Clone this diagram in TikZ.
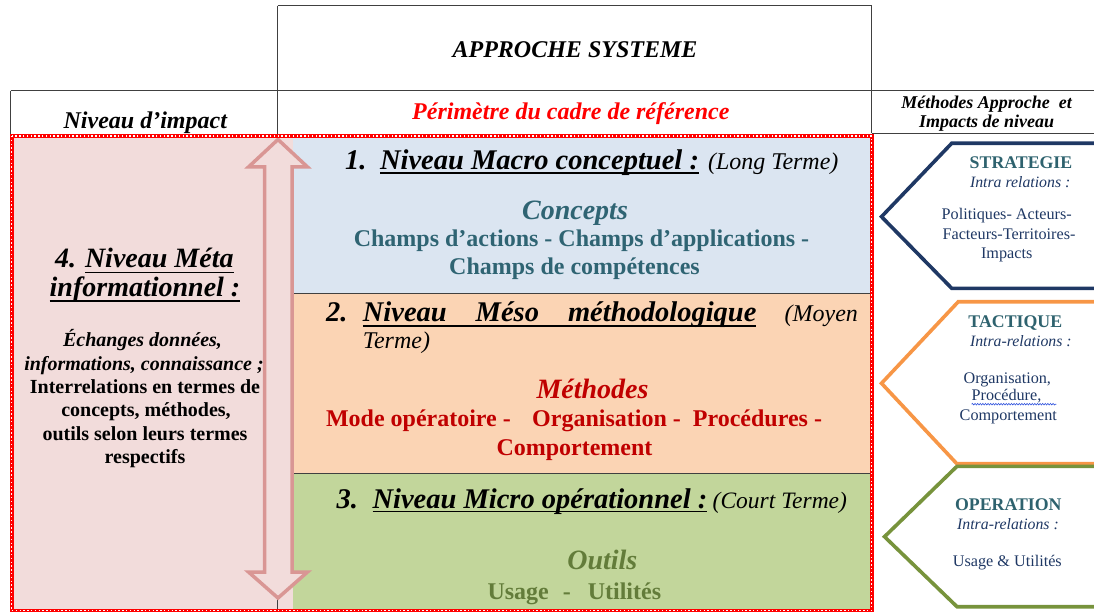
\documentclass[tikz,border=0pt]{standalone}
\usepackage{fontspec}
\setmainfont{Liberation Serif}
\usetikzlibrary{decorations.pathmorphing}

\definecolor{boxblue}{HTML}{DBE5F1}
\definecolor{boxorange}{HTML}{FBD4B4}
\definecolor{boxgreen}{HTML}{C2D69B}
\definecolor{boxpink}{HTML}{F2DCDB}
\definecolor{arrowrose}{HTML}{D99694}
\definecolor{gridgray}{HTML}{404040}
\definecolor{conceptteal}{HTML}{2F6473}
\definecolor{titleteal}{HTML}{2E626E}
\definecolor{navyblue}{HTML}{1F3864}
\definecolor{methodred}{HTML}{C00000}
\definecolor{toololive}{HTML}{637C3A}
\definecolor{tactorange}{HTML}{F79646}
\definecolor{operolive}{HTML}{77933C}
\definecolor{spellblue}{HTML}{3355DD}

\newcommand{\setfs}[1]{\fontsize{#1}{#1}\selectfont}

\begin{document}
\begin{tikzpicture}[x=1pt,y=-1pt,
  txt/.style={inner sep=0pt,outer sep=0pt},
  gridline/.style={gridgray,line width=1.2pt},
  uline/.style={black,line width=1.8pt},
  chevron/.style={line width=3.6pt,line join=miter},
  framered/.style={red,line width=4pt},
  framestripe/.style={white,line width=1.3pt,dash pattern=on 1.4pt off 2.4pt}]
\useasboundingbox (0,0) rectangle (1094,612);

% coloured bands of the frame of reference
\fill[boxpink]   (11.5,136) rectangle (293,610);
\fill[boxblue]   (293,136) rectangle (871.5,293.3);
\fill[boxorange] (293,293.3) rectangle (871.5,473.3);
\fill[boxgreen]  (293,473.3) rectangle (871.5,610);

% table rules
\draw[gridline] (277.5,5.7) -- (871.7,5.7);
\draw[gridline] (10.7,90.7) -- (1094,90.7);
\draw[gridline] (10.7,90.7) -- (10.7,136);
\draw[gridline] (277.5,5.7) -- (277.5,610);
\draw[gridline] (871.7,5.7) -- (871.7,133.5);
\draw[gridline] (871.7,133.5) -- (1094,133.5);
\draw[gridline] (293,293.3) -- (871.5,293.3);
\draw[gridline] (293,473.3) -- (871.5,473.3);

% double-headed vertical arrow
\draw[arrowrose,line width=3.5pt,fill=boxpink,line join=miter]
  (278,139.5) -- (307.5,167) -- (292,167) -- (292,572) -- (307.5,572)
  -- (278,598) -- (248.5,572) -- (264.5,572) -- (264.5,167) -- (248.5,167) -- cycle;

% red striped frame
\draw[framered] (11.5,136) rectangle (871.5,610.5);
\draw[framestripe] (11.5,136) rectangle (871.5,610.5);

% headers
\node[txt,anchor=base] (approche) at (575,57.3) {\setfs{24}\bfseries\itshape APPROCHE SYSTEME};
\node[txt,anchor=base] (impacthead) at (145.3,128.3) {\setfs{24}\bfseries\itshape Niveau d’impact};
\node[txt,anchor=base,text=red] (perimetre) at (570.8,120) {\setfs{24}\bfseries\itshape Périmètre du cadre de référence};
\node[txt,anchor=base] (methhead1) at (986.5,109) {\setfs{18}\bfseries\itshape Méthodes Approche\ \ et};
\node[txt,anchor=base] (methhead2) at (986.5,127.7) {\setfs{18}\bfseries\itshape Impacts de niveau};

% level 1: macro
\node[txt,anchor=base west] (macronum) at (345,169.3) {\setfs{28.5}\bfseries\itshape 1.};
\node[txt,anchor=base west] (macro) at (380,169.3) {\setfs{28.5}\bfseries\itshape Niveau Macro conceptuel :};
\node[txt,anchor=base west] (macroterm) at (708,169.3) {\setfs{24}\itshape (Long Terme)};
\draw[uline] ([yshift=-3.4pt]macro.base west) -- ([yshift=-3.4pt]macro.base east);
\node[txt,anchor=base,text=conceptteal] (concepts) at (575,219.3) {\setfs{28}\bfseries\itshape Concepts};
\node[txt,anchor=base,text=conceptteal] (champs1) at (581.5,246.7) {\setfs{24}\bfseries Champs d’actions - Champs d’applications -};
\node[txt,anchor=base,text=conceptteal] (champs2) at (574.5,274) {\setfs{24}\bfseries Champs de compétences};

% level 2: meso
\node[txt,anchor=base west] (mesonum) at (326,321.7) {\setfs{28.5}\bfseries\itshape 2.};
\node[txt,anchor=base west] (meso1) at (362.9,321.7) {\setfs{28.5}\bfseries\itshape Niveau};
\node[txt,anchor=base west] (meso2) at (475.7,321.7) {\setfs{28.5}\bfseries\itshape Méso};
\node[txt,anchor=base west] (meso3) at (568,321.7) {\setfs{28.5}\bfseries\itshape méthodologique};
\node[txt,anchor=base west] (mesoterm1) at (784.6,321.7) {\setfs{24}\itshape (Moyen};
\node[txt,anchor=base west] (mesoterm2) at (362.9,348) {\setfs{24}\itshape Terme)};
\draw[uline] ([yshift=-4pt]meso1.base west) -- ([yshift=-4pt]meso3.base east);
\node[txt,anchor=base,text=methodred] (methodes) at (592.5,398.3) {\setfs{28}\bfseries\itshape Méthodes};
\node[txt,anchor=base west,text=methodred] (methlist) at (326,426.7) {\setfs{24}\bfseries Mode opératoire -\hspace{21.4pt}Organisation -\hspace{12pt}Procédures -};
\node[txt,anchor=base,text=methodred] (comport) at (574.5,455) {\setfs{24}\bfseries Comportement};

% level 3: micro
\node[txt,anchor=base west] (micronum) at (336.7,508.3) {\setfs{28.5}\bfseries\itshape 3.};
\node[txt,anchor=base west] (micro) at (372.5,508.3) {\setfs{28.5}\bfseries\itshape Niveau Micro opérationnel :\ };
\node[txt,anchor=base west] (microterm) at (712.7,508.3) {\setfs{23.5}\itshape (Court Terme)};
\draw[uline] ([yshift=-3.2pt]micro.base west) -- ([yshift=-3.2pt]micro.base east);
\node[txt,anchor=base,text=toololive] (outils) at (602.3,569.3) {\setfs{28}\bfseries\itshape Outils};
\node[txt,anchor=base west,text=toololive] (usages) at (487.5,599.3) {\setfs{24}\bfseries Usage\hspace{14pt}-\hspace{17pt}Utilités};

% level 4: meta
\node[txt,anchor=base west] (metanum) at (55,268) {\setfs{28}\bfseries\itshape 4.};
\node[txt,anchor=base west] (meta1) at (85,268) {\setfs{28}\bfseries\itshape Niveau Méta};
\node[txt,anchor=base] (meta2) at (145,296.7) {\setfs{28}\bfseries\itshape informationnel :};
\draw[uline] ([yshift=-4.5pt]meta1.base west) -- ([yshift=-4.5pt]meta1.base east);
\draw[uline] ([yshift=-4.5pt]meta2.base west) -- ([yshift=-4.5pt]meta2.base east);
\node[txt,anchor=base] (ex1) at (142.5,346.7) {\setfs{20}\bfseries\itshape Échanges données,};
\node[txt,anchor=base] (ex2) at (144,370) {\setfs{20}\bfseries\itshape informations, connaissance ;};
\node[txt,anchor=base] (ex3) at (145,393.3) {\setfs{20}\bfseries Interrelations en termes de};
\node[txt,anchor=base] (ex4) at (146,416.7) {\setfs{20}\bfseries concepts, méthodes,};
\node[txt,anchor=base] (ex5) at (145,440) {\setfs{20}\bfseries outils selon leurs termes};
\node[txt,anchor=base] (ex6) at (145,463.3) {\setfs{20}\bfseries respectifs};

% right column: strategy, tactics, operation
\draw[chevron,navyblue] (1096,143.3) -- (951.7,143.3) -- (881.5,216.7) -- (951.7,288.3) -- (1096,288.3);
\draw[chevron,tactorange] (1096,301.7) -- (958.3,301.7) -- (881.5,383.3) -- (956.7,463.6) -- (1096,463.6);
\draw[chevron,operolive] (1096,466.3) -- (957,466.3) -- (884.5,536.7) -- (957,606.7) -- (1096,606.7);

\node[txt,anchor=base,text=titleteal] (strat) at (1021,168.3) {\setfs{17.8}\bfseries STRATEGIE};
\node[txt,anchor=base west,text=navyblue] (stratintra) at (970,188) {\setfs{15.8}\itshape Intra relations :};
\node[txt,anchor=base,text=navyblue] (strat1) at (1006.7,220) {\setfs{16.2}Politiques- Acteurs-};
\node[txt,anchor=base,text=navyblue] (strat2) at (1009,240) {\setfs{16.2}Facteurs-Territoires-};
\node[txt,anchor=base,text=navyblue] (strat3) at (1006.7,258.3) {\setfs{16.2}Impacts};

\node[txt,anchor=base,text=titleteal] (tact) at (1015.3,327.7) {\setfs{17.8}\bfseries TACTIQUE};
\node[txt,anchor=base west,text=navyblue] (tactintra) at (970,346) {\setfs{15.8}\itshape Intra-relations :};
\node[txt,anchor=base,text=navyblue] (tact1) at (1007.3,383.3) {\setfs{16.2}Organisation,};
\node[txt,anchor=base,text=navyblue] (tact2) at (1006.5,400.7) {\setfs{16.2}Procédure,};
\node[txt,anchor=base,text=navyblue] (tact3) at (1008.3,420) {\setfs{16.2}Comportement};
\draw[spellblue,line width=0.6pt,decorate,decoration={snake,amplitude=0.8pt,segment length=2.6pt}]
  ([yshift=-3.5pt]tact2.base west) -- ([xshift=15pt,yshift=-3.5pt]tact2.base east);

\node[txt,anchor=base,text=titleteal] (oper) at (1008.3,510) {\setfs{17.8}\bfseries OPERATION};
\node[txt,anchor=base,text=navyblue] (operintra) at (1008,529.3) {\setfs{15.8}\itshape Intra-relations :};
\node[txt,anchor=base,text=navyblue] (oper1) at (1007.3,566.7) {\setfs{16.2}Usage \& Utilités};
\end{tikzpicture}
\end{document}
